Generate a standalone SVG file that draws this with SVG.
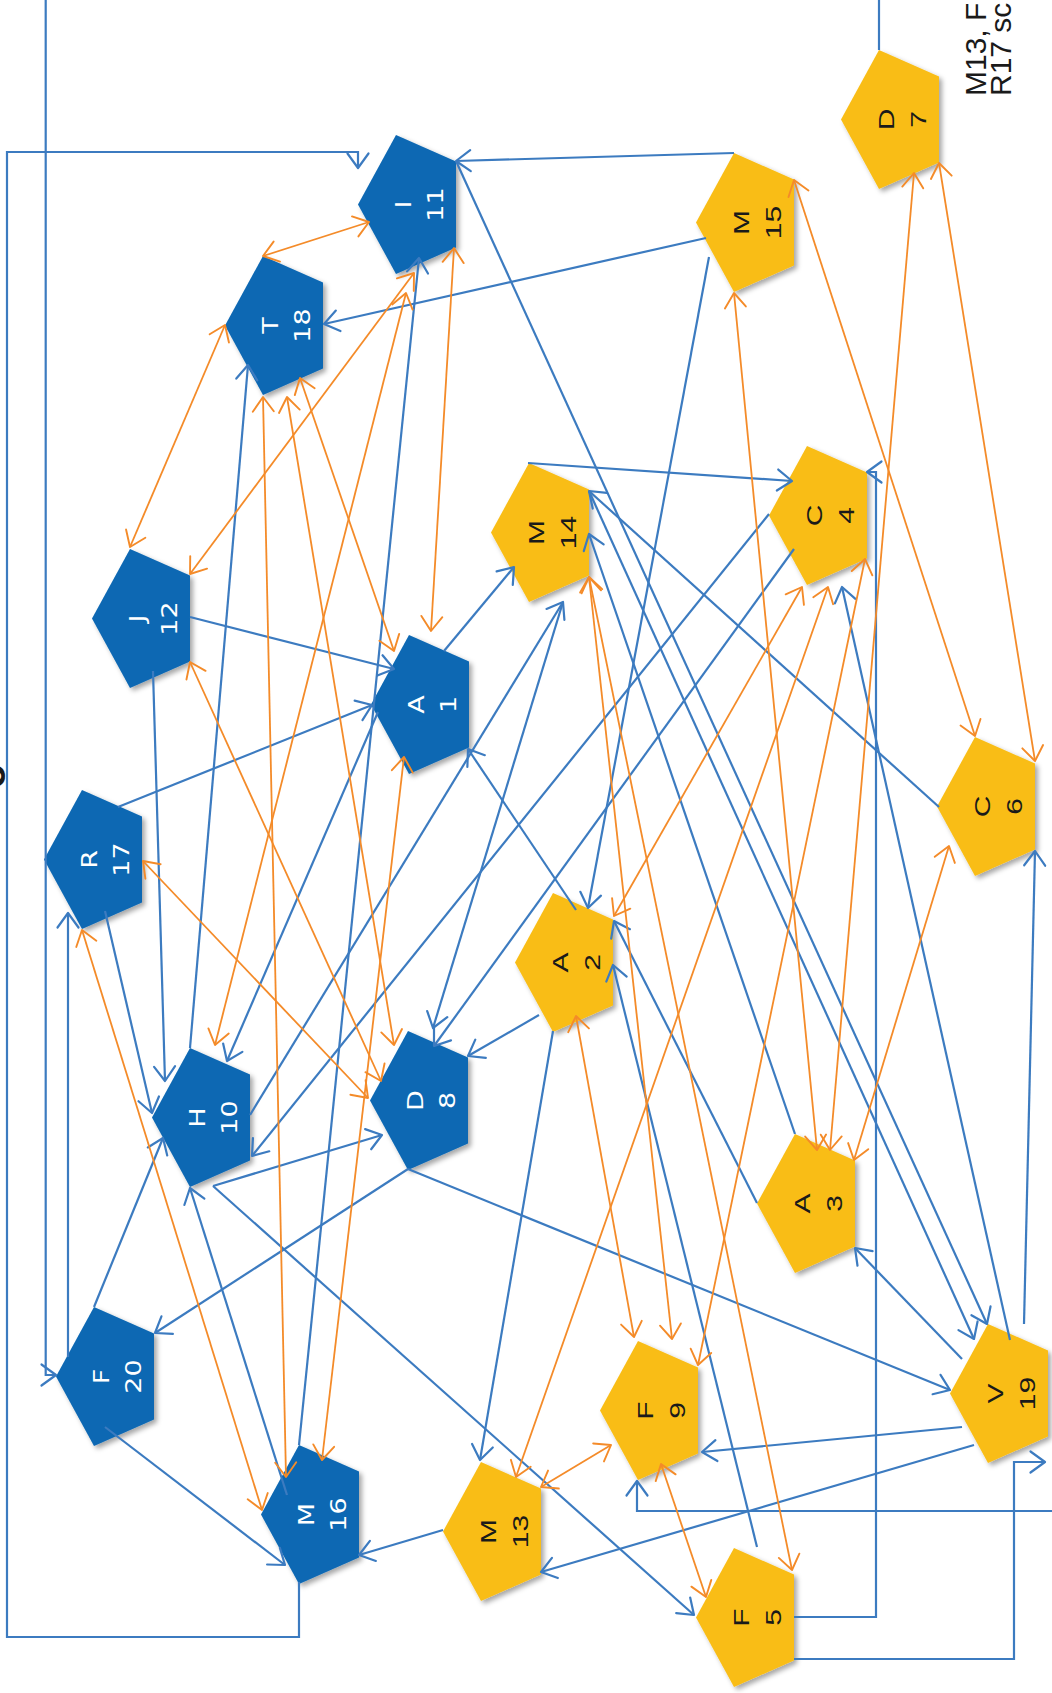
<svg xmlns="http://www.w3.org/2000/svg" xmlns:xlink="http://www.w3.org/1999/xlink" width="1052" height="1693" viewBox="0 0 1052 1693">
<style>
.nb{fill:#0A67B3;filter:url(#sh)}
.ny{fill:#F9BD16;filter:url(#sh)}
.tb{font-family:"DejaVu Sans",sans-serif;font-size:27px;fill:#ffffff;text-anchor:middle}
.ty{font-family:"Liberation Sans",Arial,sans-serif;font-size:30px;fill:#1a1a1a;text-anchor:middle}
.cb{fill:none;stroke:#3C7BC0;stroke-width:2.2;marker-end:url(#ab)}
.cb0{fill:none;stroke:#3C7BC0;stroke-width:2.2}
.co{fill:none;stroke:#F48B29;stroke-width:1.8;marker-start:url(#ao);marker-end:url(#ao)}
.note{font-family:"Liberation Sans",Arial,sans-serif;font-size:30px;fill:#1a1a1a}
</style>
<defs>
<path id="pent" d="M0,69.5 L38,0 L98,26.5 L98,112.5 L38,139 Z"/>
<filter id="sh" x="-10%" y="-10%" width="130%" height="130%">
<feDropShadow dx="3" dy="3" stdDeviation="2.5" flood-color="#000" flood-opacity="0.35"/>
</filter>
<marker id="ab" markerUnits="userSpaceOnUse" markerWidth="30" markerHeight="30" refX="0" refY="0" orient="auto-start-reverse" style="overflow:visible">
<path d="M-14.5,-10.5 L0,0 L-14.5,10.5" fill="none" stroke="#3C7BC0" stroke-width="2.2" stroke-linejoin="round" stroke-linecap="round"/>
</marker>
<marker id="ao" markerUnits="userSpaceOnUse" markerWidth="30" markerHeight="30" refX="0" refY="0" orient="auto-start-reverse" style="overflow:visible">
<path d="M-14.5,-10.5 L0,0 L-14.5,10.5" fill="none" stroke="#F48B29" stroke-width="1.9" stroke-linejoin="round" stroke-linecap="round"/>
</marker>
</defs>
<rect width="1052" height="1693" fill="#ffffff"/>

<g id="nodes">
<g id="T18" transform="translate(225,256)"><use xlink:href="#pent" class="nb"/><text class="tb" transform="translate(45,69.5) scale(0.8,1) rotate(-90)"><tspan x="0" y="9.8">T</tspan><tspan x="0" y="49.8">18</tspan></text></g>
<g id="I11" transform="translate(358,135)"><use xlink:href="#pent" class="nb"/><text class="tb" transform="translate(45,69.5) scale(0.8,1) rotate(-90)"><tspan x="0" y="9.8">I</tspan><tspan x="0" y="49.8">11</tspan></text></g>
<g id="M15" transform="translate(696,153)"><use xlink:href="#pent" class="ny"/><text class="ty" transform="translate(45,69.5) scale(0.75,1) rotate(-90)"><tspan x="0" y="10.7">M</tspan><tspan x="0" y="53.4">15</tspan></text></g>
<g id="D7" transform="translate(841,50)"><use xlink:href="#pent" class="ny"/><text class="ty" transform="translate(45,69.5) scale(0.75,1) rotate(-90)"><tspan x="0" y="10.7">D</tspan><tspan x="0" y="53.4">7</tspan></text></g>
<g id="J12" transform="translate(92,549)"><use xlink:href="#pent" class="nb"/><text class="tb" transform="translate(45,69.5) scale(0.8,1) rotate(-90)"><tspan x="0" y="9.8">J</tspan><tspan x="0" y="49.8">12</tspan></text></g>
<g id="M14" transform="translate(491,463)"><use xlink:href="#pent" class="ny"/><text class="ty" transform="translate(45,69.5) scale(0.75,1) rotate(-90)"><tspan x="0" y="10.7">M</tspan><tspan x="0" y="53.4">14</tspan></text></g>
<g id="A1" transform="translate(371,635)"><use xlink:href="#pent" class="nb"/><text class="tb" transform="translate(45,69.5) scale(0.8,1) rotate(-90)"><tspan x="0" y="9.8">A</tspan><tspan x="0" y="49.8">1</tspan></text></g>
<g id="C4" transform="translate(769,446)"><use xlink:href="#pent" class="ny"/><text class="ty" transform="translate(45,69.5) scale(0.75,1) rotate(-90)"><tspan x="0" y="10.7">C</tspan><tspan x="0" y="53.4">4</tspan></text></g>
<g id="C6" transform="translate(937,737)"><use xlink:href="#pent" class="ny"/><text class="ty" transform="translate(45,69.5) scale(0.75,1) rotate(-90)"><tspan x="0" y="10.7">C</tspan><tspan x="0" y="53.4">6</tspan></text></g>
<g id="R17" transform="translate(44,790)"><use xlink:href="#pent" class="nb"/><text class="tb" transform="translate(45,69.5) scale(0.8,1) rotate(-90)"><tspan x="0" y="9.8">R</tspan><tspan x="0" y="49.8">17</tspan></text></g>
<g id="H10" transform="translate(152,1048)"><use xlink:href="#pent" class="nb"/><text class="tb" transform="translate(45,69.5) scale(0.8,1) rotate(-90)"><tspan x="0" y="9.8">H</tspan><tspan x="0" y="49.8">10</tspan></text></g>
<g id="D8" transform="translate(370,1031)"><use xlink:href="#pent" class="nb"/><text class="tb" transform="translate(45,69.5) scale(0.8,1) rotate(-90)"><tspan x="0" y="9.8">D</tspan><tspan x="0" y="49.8">8</tspan></text></g>
<g id="A2" transform="translate(515,893)"><use xlink:href="#pent" class="ny"/><text class="ty" transform="translate(45,69.5) scale(0.75,1) rotate(-90)"><tspan x="0" y="10.7">A</tspan><tspan x="0" y="53.4">2</tspan></text></g>
<g id="A3" transform="translate(757,1134)"><use xlink:href="#pent" class="ny"/><text class="ty" transform="translate(45,69.5) scale(0.75,1) rotate(-90)"><tspan x="0" y="10.7">A</tspan><tspan x="0" y="53.4">3</tspan></text></g>
<g id="F20" transform="translate(56,1307)"><use xlink:href="#pent" class="nb"/><text class="tb" transform="translate(45,69.5) scale(0.8,1) rotate(-90)"><tspan x="0" y="9.8">F</tspan><tspan x="0" y="49.8">20</tspan></text></g>
<g id="M16" transform="translate(261,1445)"><use xlink:href="#pent" class="nb"/><text class="tb" transform="translate(45,69.5) scale(0.8,1) rotate(-90)"><tspan x="0" y="9.8">M</tspan><tspan x="0" y="49.8">16</tspan></text></g>
<g id="M13" transform="translate(443,1462)"><use xlink:href="#pent" class="ny"/><text class="ty" transform="translate(45,69.5) scale(0.75,1) rotate(-90)"><tspan x="0" y="10.7">M</tspan><tspan x="0" y="53.4">13</tspan></text></g>
<g id="F9" transform="translate(600,1341)"><use xlink:href="#pent" class="ny"/><text class="ty" transform="translate(45,69.5) scale(0.75,1) rotate(-90)"><tspan x="0" y="10.7">F</tspan><tspan x="0" y="53.4">9</tspan></text></g>
<g id="V19" transform="translate(950,1324)"><use xlink:href="#pent" class="ny"/><text class="ty" transform="translate(45,69.5) scale(0.75,1) rotate(-90)"><tspan x="0" y="10.7">V</tspan><tspan x="0" y="53.4">19</tspan></text></g>
<g id="F5" transform="translate(696,1548)"><use xlink:href="#pent" class="ny"/><text class="ty" transform="translate(45,69.5) scale(0.75,1) rotate(-90)"><tspan x="0" y="10.7">F</tspan><tspan x="0" y="53.4">5</tspan></text></g>
</g>

<g id="connectors">
<path class="cb" d="M734,153 L456,161"/>
<path class="cb" d="M706,238 L324,324"/>
<path class="cb" d="M709,257 L588,908"/>
<path class="cb" d="M456,161 L987,1324"/>
<path class="cb" d="M299,1582 L299,1637 L7,1637 L7,152 L358,152 L358,168"/>
<path class="cb" d="M45.7,0 L45.7,1375 L56,1375"/>
<path class="cb0" d="M879,50 L879,0"/>
<path class="cb" d="M528,463 L792,481"/>
<path class="cb" d="M190,617 L394,669"/>
<path class="cb" d="M118,807 L372,705"/>
<path class="cb" d="M444,651 L514,567"/>
<path class="cb" d="M576,910 L468,749"/>
<path class="cb" d="M153,671 L165,1081"/>
<path class="cb" d="M105,911 L152,1113"/>
<path class="cb" d="M94,1307 L163,1138"/>
<path class="cb" d="M408,1169 L155,1333"/>
<path class="cb" d="M105,1427 L285,1565"/>
<path class="cb" d="M287,1495 L190,1188"/>
<path class="cb" d="M213,1186 L382,1135"/>
<path class="cb" d="M213,1186 L694,1615"/>
<path class="cb" d="M408,1169 L950,1390"/>
<path class="cb" d="M539,1015 L468,1056"/>
<path class="cb" d="M553,1031 L480,1460"/>
<path class="cb" d="M563,602 L433,1028"/>
<path class="cb" d="M794,549 L434,1046"/>
<path class="cb" d="M769,514 L252,1156"/>
<path class="cb" d="M939,807 L589,491"/>
<path class="cb" d="M589,491 L974,1339"/>
<path class="cb" d="M795,1134 L589,534"/>
<path class="cb" d="M962,1359 L855,1248"/>
<path class="cb" d="M757,1203 L614,921"/>
<path class="cb" d="M757,1547 L613,965"/>
<path class="cb" d="M1010,1340 L842,587"/>
<path class="cb" d="M1024,1324 L1035,851"/>
<path class="cb" d="M794,1617 L876,1617 L876,472 L867,472"/>
<path class="cb" d="M794,1659 L1014,1659 L1014,1462 L1045,1462"/>
<path class="cb" d="M1052,1511 L637,1511 L637,1481"/>
<path class="cb" d="M68,1357 L68,913"/>
<path class="cb" d="M190,1048 L248,365"/>
<path class="cb" d="M378,712 L227,1061"/>
<path class="cb" d="M250,1115 L563,602"/>
<path class="cb" d="M299,1445 L419,258"/>
<path class="cb" d="M974,1445 L541,1572"/>
<path class="cb" d="M962,1427 L702,1452"/>
<path class="cb" d="M443,1530 L359,1555"/>

<path class="co" d="M263,256 L369,222"/>
<path class="co" d="M225,325 L130,547"/>
<path class="co" d="M190,574 L414,273"/>
<path class="co" d="M215,1045 L406,293"/>
<path class="co" d="M431,631 L454,248"/>
<path class="co" d="M263,397 L286,1477"/>
<path class="co" d="M287,397 L394,1045"/>
<path class="co" d="M300,378 L394,651"/>
<path class="co" d="M143,861 L368,1098"/>
<path class="co" d="M82,930 L262,1510"/>
<path class="co" d="M190,662 L381,1081"/>
<path class="co" d="M404,757 L322,1460"/>
<path class="co" d="M794,180 L975,736"/>
<path class="co" d="M939,163 L1035,761"/>
<path class="co" d="M914,173 L830,1150"/>
<path class="co" d="M734,293 L817,1150"/>
<path class="co" d="M949,846 L854,1160"/>
<path class="co" d="M614,916 L802,587"/>
<path class="co" d="M516,1477 L828,587"/>
<path class="co" d="M698,1365 L865,559"/>
<path class="co" d="M589,577 L792,1570"/>
<path class="co" d="M589,577 L672,1339"/>
<path class="co" d="M576,1016 L634,1337"/>
<path class="co" d="M541,1487 L611,1445"/>
<path class="co" d="M661,1464 L706,1597"/>
</g>

<g id="note">
<text class="note" transform="translate(986,96) rotate(-90)">M13, F</text>
<text class="note" transform="translate(1011,96) rotate(-90)">R17 sc</text>
<text font-family="Liberation Sans, Arial, sans-serif" font-size="40" font-weight="bold" fill="#1a1a1a" text-anchor="middle" transform="translate(5,776) rotate(-90)">o</text>
</g>
</svg>
